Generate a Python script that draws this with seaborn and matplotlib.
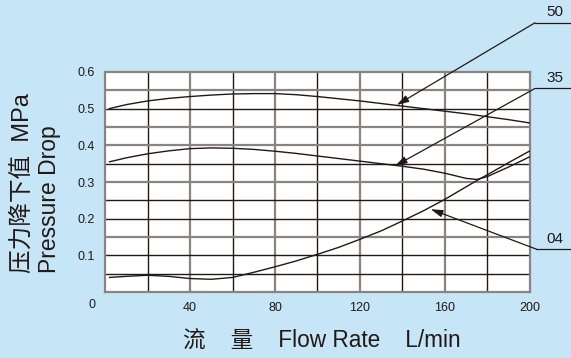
import pandas as pd
import matplotlib.pyplot as plt
import seaborn as sns


# Flow rate (L/min) vs pressure drop (MPa)
flow = [2, 10, 20, 30, 40, 50, 60, 70, 80, 90, 100, 110, 120, 130, 140, 150, 160, 170, 175, 180, 190, 200]
drop_50 = [0.500, 0.511, 0.521, 0.528, 0.533, 0.537, 0.540, 0.541, 0.541, 0.538, 0.533, 0.527, 0.521,
           0.514, 0.507, 0.500, 0.493, 0.486, 0.482, 0.478, 0.470, 0.461]
drop_35 = [0.355, 0.366, 0.377, 0.385, 0.391, 0.393, 0.392, 0.389, 0.384, 0.378, 0.371, 0.364, 0.357,
           0.350, 0.343, 0.335, 0.324, 0.310, 0.307, 0.315, 0.341, 0.369]
drop_04 = [0.040, 0.043, 0.046, 0.043, 0.037, 0.035, 0.040, 0.054, 0.069, 0.085, 0.103, 0.122, 0.144,
           0.167, 0.194, 0.222, 0.253, 0.287, 0.304, 0.320, 0.353, 0.385]

series_names = ["50", "35", "04"]
x_ticks = [40, 80, 120, 160, 200]
y_ticks = [0.1, 0.2, 0.3, 0.4, 0.5, 0.6]

# leader lines: arrow tip on the curve, elbow, label position
arrow_tips = [(137.3, 0.510), (136.5, 0.344), (153.3, 0.226)]
elbows = [(202.4, 0.734), (202.4, 0.555), (203.1, 0.117)]
label_pos = [(211.6, 0.764), (211.6, 0.583), (211.6, 0.145)]

df = pd.DataFrame({"flow": flow * 3,
                   "drop": drop_50 + drop_35 + drop_04,
                   "model": [n for n in series_names for _ in flow]})

BG = "#c6e6f8"
DARK = "#231815"
GRAY = "#8a8381"

sns.set_theme(style="white")
plt.rcParams["font.family"] = ["Liberation Sans", "Noto Sans CJK SC", "DejaVu Sans"]

fig = plt.figure(figsize=(5.71, 3.58), dpi=100, facecolor=BG)
ax = fig.add_axes([0.184, 0.184, 0.744, 0.615])
ax.set_facecolor("white")

# grid lines, dark and gray as in the print
for v in [20, 60, 100, 140, 180]:
    ax.axvline(v, color=DARK, lw=1.0, zorder=1)
for v in [40, 80, 120, 160]:
    ax.axvline(v, color=GRAY, lw=1.6, zorder=1)
for h in [0.5, 0.35, 0.25, 0.2, 0.1, 0.05]:
    ax.axhline(h, color=DARK, lw=1.0, zorder=1)
for h in [0.55, 0.45, 0.4, 0.3, 0.15]:
    ax.axhline(h, color=GRAY, lw=1.6, zorder=1)

sns.lineplot(data=df, x="flow", y="drop", units="model", estimator=None,
             color=DARK, lw=1.0, ax=ax, legend=False, zorder=3)

ax.set_xlim(0, 200)
ax.set_ylim(0, 0.6)
ax.set_xticks(x_ticks)
ax.set_xticklabels([str(t) for t in x_ticks], fontsize=9)
ax.set_yticks(y_ticks)
ax.set_yticklabels([f"{t:.1f}" for t in y_ticks], fontsize=9)
ax.tick_params(axis="x", length=0, pad=7, colors=DARK)
ax.tick_params(axis="y", length=3.5, width=1.2, pad=4, direction="out", color=GRAY, labelcolor=DARK)
ax.text(-6, -0.035, "0", fontsize=9, color=DARK, ha="center", va="center")
ax.set_xlabel("")
ax.set_ylabel("")
for s in ax.spines.values():
    s.set_color(GRAY)
    s.set_linewidth(1.6)

for name, tip, elbow, lab in zip(series_names, arrow_tips, elbows, label_pos):
    ax.annotate("", xy=tip, xytext=elbow, annotation_clip=False,
                arrowprops=dict(arrowstyle="-|>,head_length=0.6,head_width=0.18",
                                color=DARK, lw=0.9, shrinkA=0, shrinkB=0))
    ax.plot([elbow[0], 222], [elbow[1], elbow[1]], color=DARK, lw=0.9, clip_on=False)
    ax.text(lab[0], lab[1], name, fontsize=11, color=DARK, ha="center", va="center")

# axis titles
fig.text(0.040, 0.237, "压力降下值  MPa", rotation=90, fontsize=17, color=DARK, ha="center", va="bottom")
fig.text(0.087, 0.237, "Pressure Drop", rotation=90, fontsize=16.5, color=DARK, ha="center", va="bottom")
fig.text(0.564, 0.047, "流    量    Flow Rate    L/min", fontsize=16.3, color=DARK, ha="center", va="center")

fig.savefig("out.png", dpi=100, facecolor=BG)
